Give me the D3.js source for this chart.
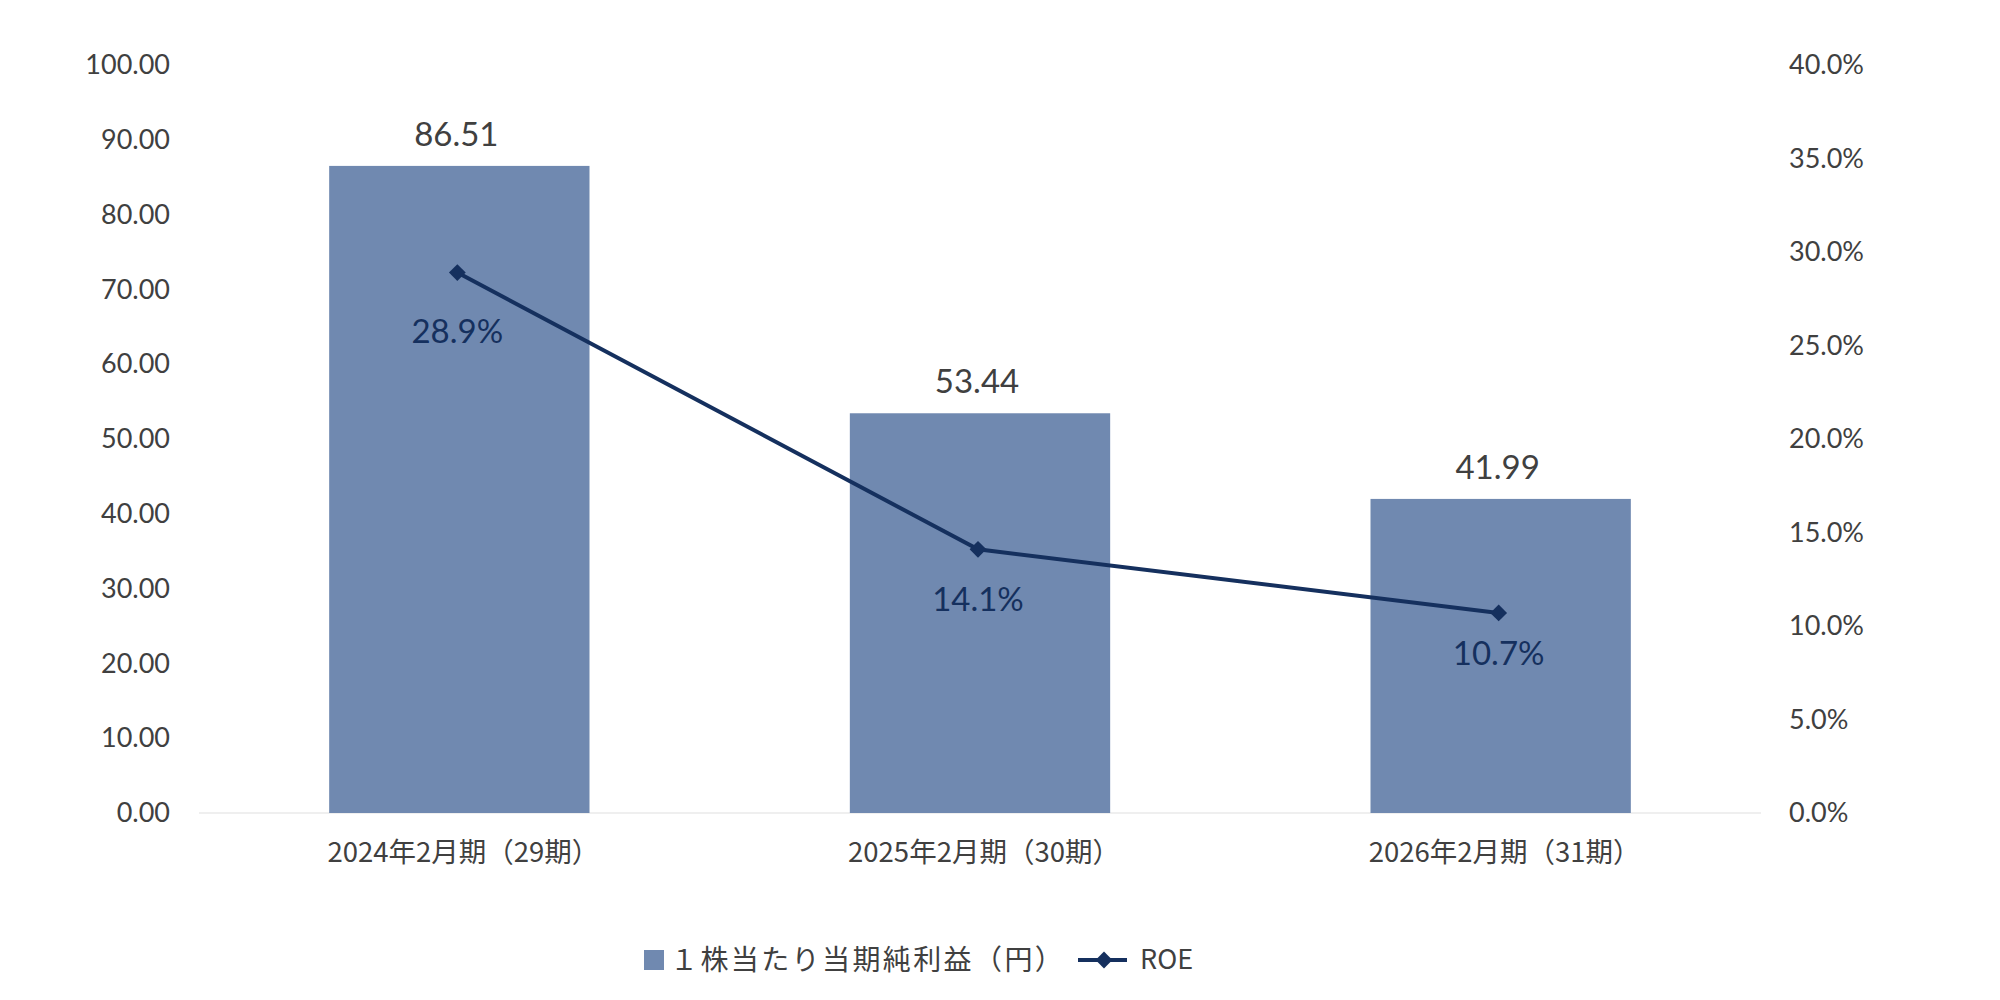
<!DOCTYPE html>
<html lang="ja">
<head>
<meta charset="UTF-8">
<title>EPS and ROE</title>
<style>
  body { margin: 0; background: #fff; }
  svg { display: block; }
  .num { font-family: Lato, "Noto Sans CJK JP", sans-serif; }
  .jp { font-family: "Noto Sans CJK JP", sans-serif; }
</style>
</head>
<body>
<svg id="chart"></svg>
<script src="https://d3js.org/d3.v7.min.js"></script>
<script>
// data
const categories = ["2024年2月期（29期）", "2025年2月期（30期）", "2026年2月期（31期）"];
const eps = [86.51, 53.44, 41.99];
const roe = [0.289, 0.141, 0.107];
const roeLabelDy = [70, 62, 52];   // labels sit a little differently under each marker
const leftTicks = [0, 10, 20, 30, 40, 50, 60, 70, 80, 90, 100];
const rightTicks = [0, 0.05, 0.10, 0.15, 0.20, 0.25, 0.30, 0.35, 0.40];
const legendLabels = ["１株当たり当期純利益（円）", "ROE"];

const width = 2000, height = 1000;
const barColor = "#7089b0", lineColor = "#15305e", textColor = "#404040";

const svg = d3.select("#chart").attr("width", width).attr("height", height);

const x = d3.scaleBand().domain(categories).range([199, 1761]).paddingInner(0.5).paddingOuter(0.25);
const yL = d3.scaleLinear().domain([0, 100]).range([813, 65]);
const yR = d3.scaleLinear().domain([0, 0.4]).range([813, 65]);

// axes (labels only)
const leftAxis = svg.append("g")
    .attr("transform", "translate(170,0)")
    .call(d3.axisLeft(yL).tickValues(leftTicks).tickSize(0).tickPadding(0).tickFormat(d3.format(".2f")));
leftAxis.select(".domain").remove();
leftAxis.selectAll("text").attr("class", "num").attr("font-size", 27).attr("fill", textColor);

const rightAxis = svg.append("g")
    .attr("transform", "translate(1789,0)")
    .call(d3.axisRight(yR).tickValues(rightTicks).tickSize(0).tickPadding(0).tickFormat(d3.format(".1%")));
rightAxis.select(".domain").remove();
rightAxis.selectAll("text").attr("class", "num").attr("font-size", 27).attr("fill", textColor);

// baseline
svg.append("line")
    .attr("x1", 199).attr("x2", 1761)
    .attr("y1", yL(0)).attr("y2", yL(0))
    .attr("stroke", "#efefef").attr("stroke-width", 2);

// category labels
svg.append("g").selectAll("text")
  .data(categories)
  .join("text")
    .attr("class", "jp")
    .attr("x", d => x(d) + x.bandwidth() / 2 + 4)
    .attr("y", 852)
    .attr("dy", "0.35em")
    .attr("text-anchor", "middle")
    .attr("font-size", 27.5)
    .attr("fill", textColor)
    .text(d => d);

// bars
svg.append("g").selectAll("rect")
  .data(eps)
  .join("rect")
    .attr("x", (d, i) => x(categories[i]))
    .attr("y", d => yL(d))
    .attr("width", x.bandwidth())
    .attr("height", d => yL(0) - yL(d))
    .attr("fill", barColor);

svg.append("g").selectAll("text")
  .data(eps)
  .join("text")
    .attr("class", "num")
    .attr("x", (d, i) => x(categories[i]) + x.bandwidth() / 2 - 3)
    .attr("y", d => yL(d) - 20)
    .attr("text-anchor", "middle")
    .attr("font-size", 33)
    .attr("fill", textColor)
    .text(d => d.toFixed(2));

// ROE line
const cx = (d, i) => x(categories[i]) + x.bandwidth() / 2 - 2;
const line = d3.line().x((d, i) => cx(d, i)).y(d => yR(d));
svg.append("path")
    .datum(roe)
    .attr("d", line)
    .attr("fill", "none")
    .attr("stroke", lineColor)
    .attr("stroke-width", 4);

const diamond = d3.symbol().type(d3.symbolDiamond2).size(180);
svg.append("g").selectAll("path")
  .data(roe)
  .join("path")
    .attr("d", diamond)
    .attr("transform", (d, i) => `translate(${cx(d, i)},${yR(d)})`)
    .attr("fill", lineColor);

svg.append("g").selectAll("text")
  .data(roe)
  .join("text")
    .attr("class", "num")
    .attr("x", (d, i) => cx(d, i))
    .attr("y", (d, i) => yR(d) + roeLabelDy[i])
    .attr("text-anchor", "middle")
    .attr("font-size", 33)
    .attr("fill", lineColor)
    .text(d => d3.format(".1%")(d));

// legend
const legend = svg.append("g");
legend.append("rect")
    .attr("x", 644).attr("y", 950).attr("width", 20).attr("height", 20)
    .attr("fill", barColor);
legend.append("text")
    .attr("class", "jp")
    .attr("x", 670).attr("y", 960).attr("dy", "0.35em")
    .attr("font-size", 28).attr("letter-spacing", 2.4)
    .attr("fill", textColor)
    .text(legendLabels[0]);
legend.append("line")
    .attr("x1", 1078).attr("x2", 1127).attr("y1", 960).attr("y2", 960)
    .attr("stroke", lineColor).attr("stroke-width", 4);
legend.append("path")
    .attr("d", diamond)
    .attr("transform", "translate(1104,960)")
    .attr("fill", lineColor);
legend.append("text")
    .attr("class", "jp")
    .attr("x", 1140).attr("y", 960).attr("dy", "0.35em")
    .attr("font-size", 27)
    .attr("fill", textColor)
    .text(legendLabels[1]);
</script>
</body>
</html>
